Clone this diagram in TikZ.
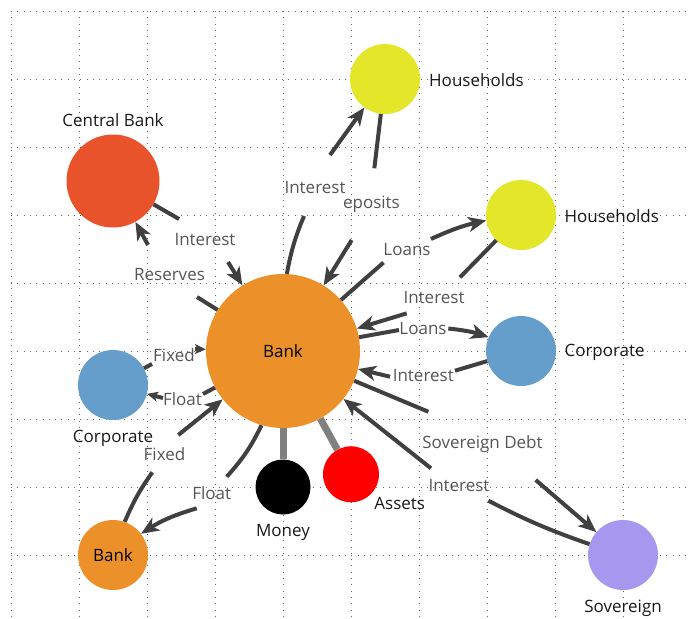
\documentclass[tikz,border=0pt]{standalone}
\usepackage{fontspec}
\setmainfont{Open Sans}
\usetikzlibrary{arrows.meta}

\definecolor{cbred}{HTML}{E8532B}
\definecolor{hhyellow}{HTML}{E3E629}
\definecolor{bankorange}{HTML}{EC912A}
\definecolor{corpblue}{HTML}{659DCB}
\definecolor{sovpurple}{HTML}{A897EE}
\definecolor{linkgray}{HTML}{404040}
\definecolor{textgray}{HTML}{555555}

\tikzset{
  agent/.style={circle, inner sep=0pt, minimum size=70pt},
  agentname/.style={inner sep=0pt, text=black!90, anchor=base},
  flowtext/.style={inner sep=0pt, text=textgray, anchor=base},
  flow/.style={draw=linkgray, line width=4pt},
  flowto/.style={flow, -{Stealth[length=18pt,width=15pt,inset=5pt]}},
  flowshort/.style={flow, -{Stealth[length=11pt,width=10pt,inset=3pt]}},
  hold/.style={draw=gray, line width=7pt},
  griddot/.style={black!60, line width=1pt, dash pattern=on 1pt off 5.3pt}
}

\begin{document}
\begin{tikzpicture}[x=68pt, y=-68pt, font=\fontsize{17pt}{20pt}\selectfont]
\useasboundingbox (-0.1618,-0.1618) rectangle (10,8.941);

%% Grid
\foreach \x in {0,...,10} \draw[griddot] (\x,0) -- (\x,8.95);
\foreach \y in {0,...,8} \draw[griddot] (0,\y) -- (10,\y);

%% Agents
\node[agent, fill=bankorange, minimum size=154pt] (bank) at (4,5) {Bank};
\node[agent, fill=cbred, minimum size=93pt] (cb) at (1.5,2.5) {};
\node[agent, fill=hhyellow] (hh1) at (5.5,1) {};
\node[agent, fill=hhyellow] (hh2) at (7.5,3) {};
\node[agent, fill=corpblue] (corpR) at (7.5,5) {};
\node[agent, fill=corpblue] (corpL) at (1.5,5.5) {};
\node[agent, fill=bankorange] (bankS) at (1.5,8) {Bank};
\node[agent, fill=black, minimum size=55pt] (money) at (4,7) {};
\node[agent, fill=red, minimum size=56pt] (assets) at (5,6.813) {};
\node[agent, fill=sovpurple] (sov) at (9,8) {};

%% Agent names
\node[agentname] (cbname) at (1.5,1.701) {Central Bank};
\node[agentname, anchor=base west] (hh1name) at (6.147,1.103) {Households};
\node[agentname, anchor=base west] (hh2name) at (8.137,3.107) {Households};
\node[agentname, anchor=base west] (corpRname) at (8.137,5.074) {Corporate};
\node[agentname] (corpLname) at (1.5,6.343) {Corporate};
\node[agentname] (moneyname) at (4,7.728) {Money};
\node[agentname] (assetsname) at (5.716,7.328) {Assets};
\node[agentname] (sovname) at (9,8.849) {Sovereign};

%% Holdings
\draw[hold] (bank) -- (money);
\draw[hold] (bank) -- (assets);

%% Central bank flows
\node[flowtext] (cbint) at (2.853,3.449) {Interest};
\coordinate (a1) at (2.471,3.059);
\coordinate (a2) at (3.191,3.691);
\draw[flow] (cb) -- (a1);
\draw[flowto] (a2) -- (bank);

\node[flowtext] (cbres) at (2.331,3.956) {Reserves};
\coordinate (b1) at (2.735,4.206);
\coordinate (b2) at (2.015,3.441);
\draw[flow] (bank) -- (b1);
\draw[flowto] (b2) -- (cb);

%% Households (top)
\node[flowtext] (hh1int) at (4.471,2.691) {Interest};
\coordinate (c1) at (4.309,3.015);
\coordinate (c2) at (4.691,2.118);
\draw[flow] (bank) to[bend left=6] (c1);
\draw[flowto] (c2) -- (hh1);

\node[flowtext] (hh1dep) at (5.301,2.897) {eposits};
\coordinate (d1) at (5.343,2.313);
\coordinate (d2) at (5.010,3.368);
\draw[flow] (hh1) -- (d1);
\draw[flowto] (d2) -- (bank);

%% Households (right)
\node[flowtext] (hh2loan) at (5.824,3.596) {Loans};
\coordinate (e1) at (5.478,3.699);
\coordinate (e2) at (6.176,3.353);
\draw[flow] (bank) -- (e1);
\draw[flowto] (e2) to[bend left=6] (hh2);

\node[flowtext] (hh2int) at (6.221,4.294) {Interest};
\coordinate (f1) at (6.603,3.916);
\coordinate (f2) at (5.819,4.446);
\draw[flow] (hh2) -- (f1);
\draw[flowto] (f2) -- (bank);

%% Corporate (right)
\node[flowtext] (corpRloan) at (6.059,4.75) {Loans};
\coordinate (g1) at (5.706,4.691);
\coordinate (g2) at (6.431,4.669);
\draw[flow] (bank) -- (g1);
\draw[flowto] (g2) to[bend left=6] (corpR);

\node[flowtext] (corpRint) at (6.063,5.449) {Interest};
\coordinate (h1) at (6.529,5.290);
\coordinate (h2) at (5.574,5.378);
\draw[flow] (corpR) -- (h1);
\draw[flowto] (h2) -- (bank);

%% Sovereign
\node[flowtext] (sovdebt) at (6.934,6.441) {Sovereign Debt};
\coordinate (i1) at (6.137,5.893);
\coordinate (i2) at (7.716,6.897);
\draw[flow] (bank) -- (i1);
\draw[flowto] (i2) -- (sov);

\node[flowtext] (sovint) at (6.588,7.066) {Interest};
\coordinate (j1) at (7.019,7.201);
\coordinate (j2) at (6.176,6.725);
\draw[flow] (sov) to[bend left=4] (j1);
\draw[flowto] (j2) -- (bank);

%% Corporate (left)
\node[flowtext] (corpLfix) at (2.397,5.147) {Fixed};
\coordinate (k1) at (2.074,5.191);
\coordinate (k2) at (2.706,4.971);
\draw[flow] (corpL) -- (k1);
\draw[flowshort] (k2) -- (bank);

\node[flowtext] (corpLflt) at (2.522,5.794) {Float};
\coordinate (m1) at (2.824,5.632);
\coordinate (m2) at (2.235,5.691);
\draw[flow] (bank) -- (m1);
\draw[flowshort] (m2) -- (corpL);

%% Bank (small)
\node[flowtext] (bankSfix) at (2.257,6.603) {Fixed};
\coordinate (n1) at (2.078,6.784);
\coordinate (n2) at (2.460,6.235);
\draw[flow] (bankS) to[bend left=6] (n1);
\draw[flowto] (n2) -- (bank);

\node[flowtext] (bankSflt) at (2.951,7.181) {Float};
\coordinate (o1) at (3.172,6.849);
\coordinate (o2) at (2.731,7.313);
\draw[flow] (bank) to[bend left=8] (o1);
\draw[flowto] (o2) to[bend right=8] (bankS);
\end{tikzpicture}
\end{document}
